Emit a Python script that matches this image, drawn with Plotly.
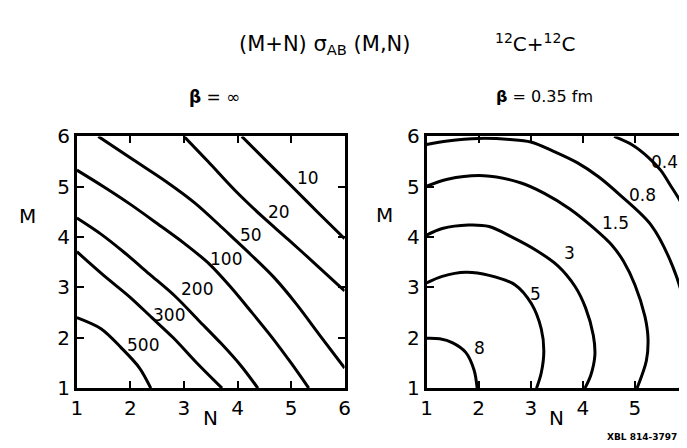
import plotly.graph_objects as go

# ---------------- data ----------------
# Left panel (beta = infinity): contour levels and (N, M) points along each contour
left_levels = ["10", "20", "50", "100", "200", "300", "500"]
left_c10_N = [4.08, 4.55, 5.05, 5.52, 6.00]
left_c10_M = [6.00, 5.50, 4.97, 4.47, 3.97]
left_c20_N = [3.00, 3.45, 3.95, 4.45, 4.95, 5.50, 6.00]
left_c20_M = [6.00, 5.50, 4.93, 4.42, 3.95, 3.42, 2.93]
left_c50_N = [1.40, 2.06, 2.67, 3.20, 3.65, 3.95, 4.25, 4.68, 5.10, 5.53, 6.00]
left_c50_M = [6.00, 5.53, 5.10, 4.68, 4.25, 3.95, 3.65, 3.20, 2.67, 2.06, 1.40]
left_c100_N = [1.00, 1.50, 2.00, 2.50, 3.00, 3.47, 3.88, 4.27, 4.65, 5.00, 5.33]
left_c100_M = [5.33, 5.00, 4.65, 4.27, 3.88, 3.47, 3.00, 2.50, 2.00, 1.50, 1.00]
left_c200_N = [1.00, 1.45, 1.88, 2.35, 2.83, 3.27, 3.70, 4.06, 4.38]
left_c200_M = [4.38, 4.06, 3.70, 3.27, 2.83, 2.35, 1.88, 1.45, 1.00]
left_c300_N = [1.00, 1.50, 2.00, 2.40, 2.80, 3.24, 3.71]
left_c300_M = [3.71, 3.24, 2.80, 2.40, 2.00, 1.50, 1.00]
left_c500_N = [1.00, 1.45, 1.83, 2.17, 2.38]
left_c500_M = [2.40, 2.18, 1.80, 1.40, 1.00]
left_label_N = [5.32, 4.78, 4.25, 3.79, 3.25, 2.72, 2.24]
left_label_M = [5.18, 4.50, 4.05, 3.57, 2.96, 2.46, 1.86]

# Right panel (beta = 0.35 fm)
right_levels = ["0.4", "0.8", "1.5", "3", "5", "8"]
right_c04_N = [4.60, 4.95, 5.25, 5.50, 5.68, 5.85, 6.00]
right_c04_M = [6.00, 5.83, 5.59, 5.32, 5.03, 4.75, 4.45]
right_c08_N = [1.00, 1.40, 2.00, 2.60, 3.00, 3.45, 3.89, 4.30, 4.71, 5.31, 5.72, 5.94, 5.98, 5.94, 5.87]
right_c08_M = [5.84, 5.91, 5.96, 5.94, 5.89, 5.70, 5.48, 5.20, 4.84, 4.24, 3.43, 2.68, 2.00, 1.45, 1.00]
right_c15_N = [1.00, 1.40, 2.10, 2.80, 3.26, 3.75, 4.21, 4.55, 4.78, 5.00, 5.19, 5.25, 5.22, 5.04]
right_c15_M = [5.01, 5.15, 5.22, 5.08, 4.87, 4.56, 4.18, 3.85, 3.52, 3.05, 2.43, 2.00, 1.55, 1.00]
right_c3_N = [1.00, 1.30, 1.80, 2.20, 2.64, 3.10, 3.52, 3.85, 4.05, 4.20, 4.23, 4.15, 4.04]
right_c3_M = [4.04, 4.17, 4.24, 4.21, 4.00, 3.74, 3.43, 3.02, 2.60, 2.05, 1.65, 1.25, 1.00]
right_c5_N = [1.00, 1.30, 1.75, 2.20, 2.70, 3.01, 3.20, 3.25, 3.20, 3.11]
right_c5_M = [3.09, 3.22, 3.30, 3.24, 3.05, 2.68, 2.18, 1.74, 1.30, 1.00]
right_c8_N = [1.00, 1.25, 1.50, 1.75, 1.91, 1.97]
right_c8_M = [1.99, 1.98, 1.90, 1.71, 1.36, 1.00]
right_label_N = [5.56, 5.14, 4.62, 3.74, 3.09, 2.02]
right_label_M = [5.50, 4.83, 4.28, 3.68, 2.88, 1.79]

tick_vals = [1, 2, 3, 4, 5, 6]
tick_text = ["1", "2", "3", "4", "5", "6"]

# ---------------- figure ----------------
W, H = 687, 448
FONT = "DejaVu Sans"
fig = go.Figure()

left_curves = [(left_c10_N, left_c10_M), (left_c20_N, left_c20_M), (left_c50_N, left_c50_M),
               (left_c100_N, left_c100_M), (left_c200_N, left_c200_M), (left_c300_N, left_c300_M),
               (left_c500_N, left_c500_M)]
right_curves = [(right_c04_N, right_c04_M), (right_c08_N, right_c08_M), (right_c15_N, right_c15_M),
                (right_c3_N, right_c3_M), (right_c5_N, right_c5_M), (right_c8_N, right_c8_M)]

for (xs, ys), lev in zip(left_curves, left_levels):
    fig.add_trace(go.Scatter(x=xs, y=ys, mode="lines", name=lev, xaxis="x", yaxis="y",
                             line=dict(color="black", width=3, shape="spline", smoothing=0.9),
                             showlegend=False, hoverinfo="skip"))
for (xs, ys), lev in zip(right_curves, right_levels):
    fig.add_trace(go.Scatter(x=xs, y=ys, mode="lines", name=lev, xaxis="x2", yaxis="y2",
                             line=dict(color="black", width=3, shape="spline", smoothing=0.9),
                             showlegend=False, hoverinfo="skip"))

annotations = []
for n, m, t in zip(left_label_N, left_label_M, left_levels):
    annotations.append(dict(x=n, y=m, xref="x", yref="y", text=t, showarrow=False,
                            font=dict(family=FONT, size=17, color="black")))
for n, m, t in zip(right_label_N, right_label_M, right_levels):
    annotations.append(dict(x=n, y=m, xref="x2", yref="y2", text=t, showarrow=False,
                            font=dict(family=FONT, size=17, color="black")))

def px(x):
    return x / W

def py(y):
    return 1 - y / H

text_items = [
    ("(M+N) σ<sub>AB</sub> (M,N)", 317, 26, 21),
    ("<sup>12</sup>C+<sup>12</sup>C", 530, 24, 20),
    ("<b>β</b> = ∞", 204, 81, 17),
    ("<b>β</b> = 0.35 fm", 540, 81, 16),
    ("M", 14, 207, 20),
    ("M", 377, 206, 20),
    ("N", 200, 420, 20),
    ("N", 552, 421, 20),
    ("<b>XBL 814-3797</b>", 639, 441, 9),
]
for t, x, y, s in text_items:
    annotations.append(dict(x=px(x), y=py(y), xref="paper", yref="paper", text=t,
                            showarrow=False, xanchor="center", yanchor="middle",
                            font=dict(family=FONT, size=s, color="black")))

axis_common = dict(range=[1, 6], tickvals=tick_vals, ticktext=tick_text, ticks="inside",
                   ticklen=7, tickwidth=2, tickcolor="black", showline=True, linewidth=3,
                   linecolor="black", mirror="ticks", showgrid=False, zeroline=False,
                   tickfont=dict(family=FONT, size=20, color="black"), fixedrange=True,
                   ticklabeloverflow="allow")

y_dom = [py(389), py(123)]
fig.update_layout(
    width=W, height=H, margin=dict(l=0, r=0, t=0, b=0),
    paper_bgcolor="white", plot_bgcolor="white", showlegend=False,
    xaxis=dict(domain=[px(64), px(336.5)], anchor="y", **axis_common),
    yaxis=dict(domain=y_dom, anchor="x", **axis_common),
    xaxis2=dict(domain=[px(420), px(685)], anchor="y2", **axis_common),
    yaxis2=dict(domain=y_dom, anchor="x2", **axis_common),
    annotations=annotations,
)

fig.write_html("out.html")
